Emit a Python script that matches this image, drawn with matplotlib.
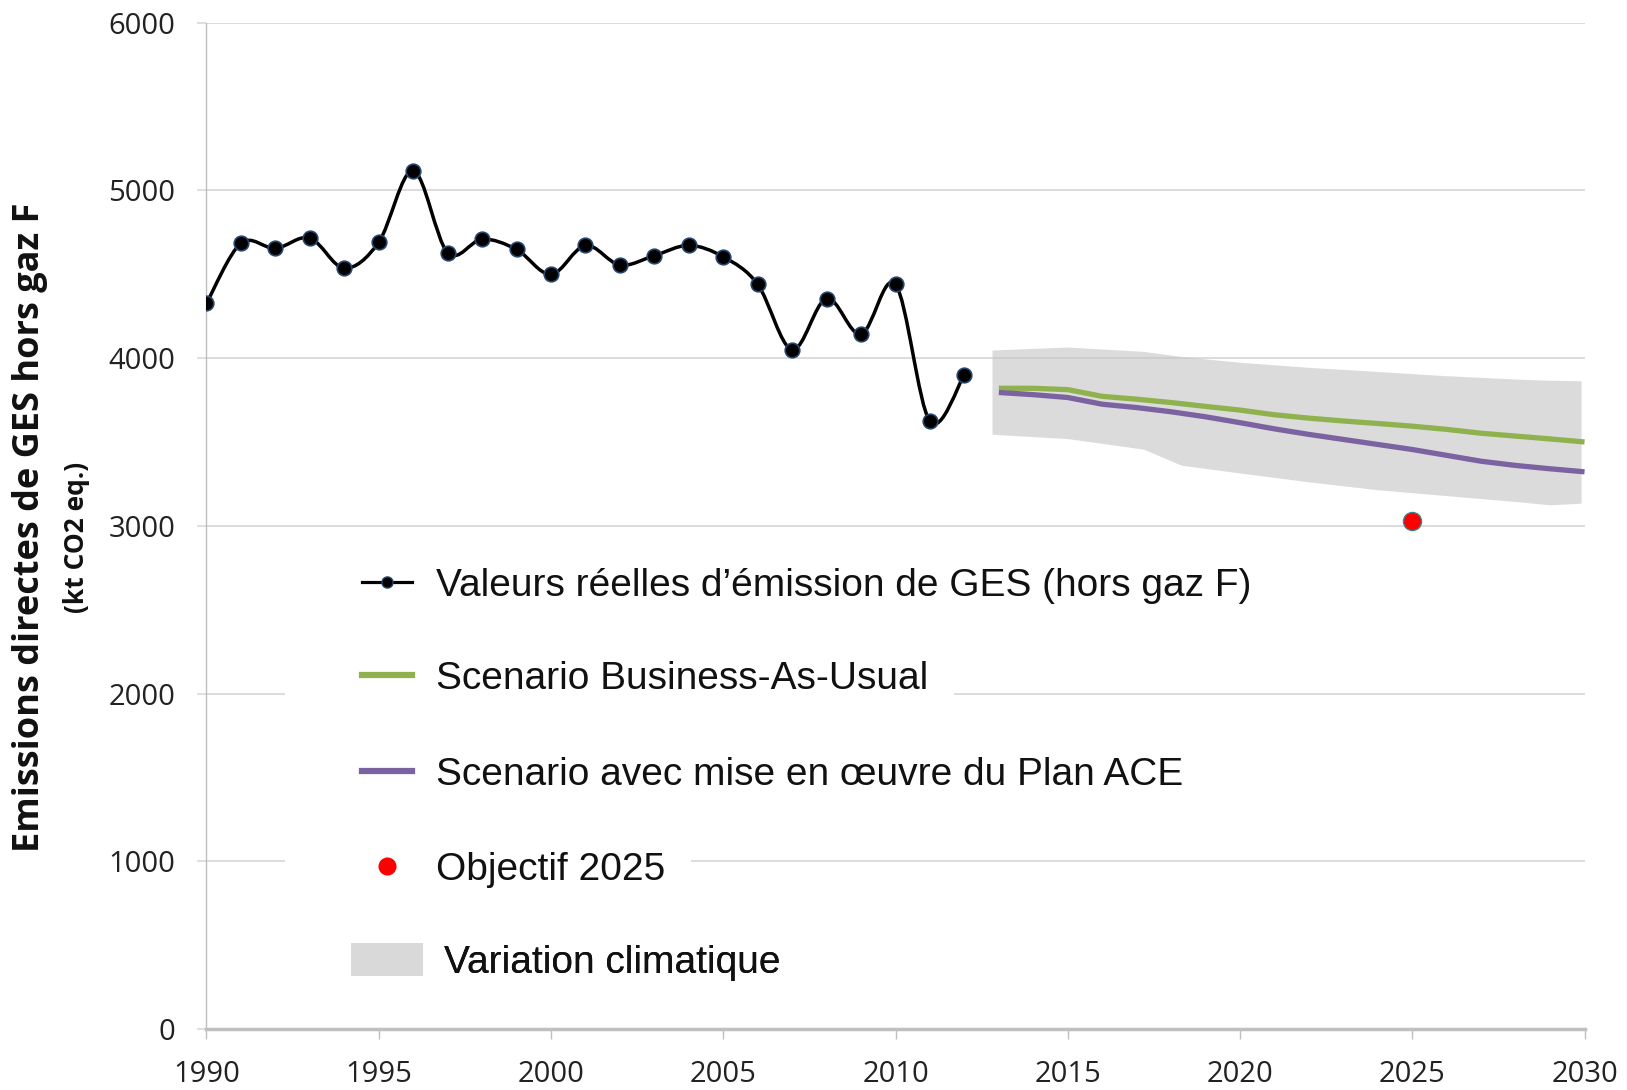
import matplotlib
matplotlib.use("Agg")
import matplotlib.pyplot as plt
import numpy as np
from matplotlib.path import Path
from matplotlib.patches import PathPatch, Patch, Rectangle
from matplotlib.lines import Line2D

# real GES emissions (hors gaz F), kt CO2 eq.
years_real = list(range(1990, 2013))
emissions_real = [4326, 4685, 4654, 4716, 4536, 4691, 5117, 4629, 4709, 4648,
                  4499, 4672, 4555, 4611, 4672, 4604, 4440, 4050, 4355, 4142,
                  4440, 3622, 3902]

# scenarios
years_scen = list(range(2013, 2031))
bau = [3820, 3820, 3812, 3772, 3755, 3735, 3712, 3690, 3662, 3642,
       3625, 3610, 3594, 3575, 3552, 3535, 3518, 3500]
plan_ace = [3795, 3782, 3765, 3725, 3705, 3680, 3650, 3615, 3578, 3545,
            3515, 3485, 3455, 3420, 3385, 3360, 3340, 3322]

# climatic variation band
band_years = [2012.8, 2015, 2017.2, 2018.3, 2020, 2022, 2024, 2026, 2028, 2029, 2029.9]
band_top = [4048, 4066, 4040, 4010, 3975, 3945, 3920, 3895, 3875, 3868, 3865]
band_bottom = [3546, 3520, 3457, 3361, 3315, 3262, 3215, 3180, 3145, 3125, 3135]

objectif_year = 2025
objectif_value = 3030

legend_labels = ["Valeurs réelles d\u2019émission de GES (hors gaz F)",
                 "Scenario Business-As-Usual",
                 "Scenario avec mise en \u0153uvre du Plan ACE",
                 "Objectif 2025",
                 "Variation climatique"]

c_green = '#8fb24e'
c_purple = '#7b62a0'
c_grid = '#d9d9d9'
c_axis = '#bfbfbf'
c_band = '#c4c4c4'


def smooth_path(xs, ys, t=1.0 / 6):
    # Excel-like smoothed line: cubic bezier between data points
    pts = np.column_stack([xs, ys]).astype(float)
    n = len(pts)
    verts = [pts[0]]
    codes = [Path.MOVETO]
    for i in range(n - 1):
        p0 = pts[max(i - 1, 0)]
        p1 = pts[i]
        p2 = pts[i + 1]
        p3 = pts[min(i + 2, n - 1)]
        c1 = p1 + (p2 - p0) * t
        c2 = p2 - (p3 - p1) * t
        verts += [c1, c2, p2]
        codes += [Path.CURVE4] * 3
    return Path(verts, codes)


W, H = 1627, 1090
fig = plt.figure(figsize=(W / 100, H / 100), dpi=100)
ax = fig.add_axes([0.1269, 0.056, 0.8470, 0.9232])

ax.set_xlim(1990, 2030)
ax.set_ylim(0, 6000)
ax.set_xticks(range(1990, 2031, 5))
ax.set_yticks(range(0, 6001, 1000))
ax.yaxis.grid(True, color=c_grid, lw=1.3, zorder=0)
ax.set_axisbelow(True)

for s in ['top', 'right']:
    ax.spines[s].set_visible(False)
ax.spines['left'].set_color(c_axis)
ax.spines['left'].set_linewidth(1.0)
ax.spines['bottom'].set_color(c_axis)
ax.spines['bottom'].set_linewidth(2.5)
ax.tick_params(axis='y', length=6.5, width=1.2, color=c_grid, pad=16,
               labelsize=21, labelcolor='#222222')
ax.tick_params(axis='x', length=7, width=1.0, color=c_axis, pad=15,
               labelsize=21, labelcolor='#222222')
for lab in ax.get_xticklabels() + ax.get_yticklabels():
    lab.set_fontfamily('Open Sans')

# band
ax.fill_between(band_years, band_bottom, band_top, color=c_band, alpha=0.6,
                lw=0, zorder=1)

# scenarios
ax.plot(years_scen, bau, color=c_green, lw=3.8, solid_capstyle='butt', zorder=3)
ax.plot(years_scen, plan_ace, color=c_purple, lw=3.8, solid_capstyle='butt', zorder=3)

# real values, smoothed
ax.add_patch(PathPatch(smooth_path(years_real, emissions_real), fill=False,
                       lw=2.5, edgecolor='black', zorder=4))
ax.plot(years_real, emissions_real, ls='none', marker='o', ms=10.5,
        mfc='black', mec='#24466f', mew=1.2, zorder=5)

# objectif
ax.plot([objectif_year], [objectif_value], ls='none', marker='o', ms=13,
        mfc='#ff0000', mec='#3d7f8a', mew=1.0, zorder=5)

# y label
fig.text(0.0185, 0.5165, "Emissions directes de GES hors gaz F", rotation=90,
         ha='center', va='center', fontsize=26, fontweight='bold',
         family='Open Sans', color='#111111')
fig.text(0.047, 0.507, "(kt CO2 eq.)", rotation=90, ha='center', va='center',
         fontsize=19, fontweight='bold', family='Open Sans', color='#111111')

# legend: one white box per row (hides gridlines only behind each row)
handles = [
    Line2D([], [], color='black', lw=2.3, marker='o', ms=8, mfc='black',
           mec='#24466f'),
    Line2D([], [], color=c_green, lw=4.5),
    Line2D([], [], color=c_purple, lw=4.5),
    Line2D([], [], ls='none', marker='o', ms=13, mfc='#ff0000', mec='none'),
    Patch(facecolor='#d9d9d9', edgecolor='none'),
]
row_y = [586, 679, 775, 870, 962]  # pixel rows of the legend entries
ax_bbox = ax.get_position()
legends = []
for i, (h, lab, py) in enumerate(zip(handles, legend_labels, row_y)):
    fy = 1 - py / H
    ay = (fy - ax_bbox.y0) / ax_bbox.height
    if i == 4:
        hl, hh, pad, x0 = 1.85, 0.95, 0.55, 345
    else:
        hl, hh, pad, x0 = 1.3, 0.7, 0.6, 356
    ax_x = (x0 / W - ax_bbox.x0) / ax_bbox.width
    leg = ax.legend([h], [lab], loc='center left', bbox_to_anchor=(ax_x, ay),
                    borderaxespad=0, borderpad=0.15, handlelength=hl,
                    handleheight=hh, handletextpad=pad, frameon=False,
                    prop={'family': 'Liberation Sans', 'size': 28})
    leg.set_zorder(6)
    for txt in leg.get_texts():
        txt.set_color('#111111')
    ax.add_artist(leg)
    legends.append(leg)

# white boxes behind rows, from a fixed left edge to end of text
fig.canvas.draw()
inv = ax.transAxes.inverted()
for leg in legends:
    bb = leg.get_window_extent()
    (x_a, y_a), (x_b, y_b) = inv.transform([[285, bb.y0 - 4], [bb.x1 + 20, bb.y1 + 4]])
    ax.add_patch(Rectangle((x_a, y_a), x_b - x_a, y_b - y_a, transform=ax.transAxes,
                           facecolor='white', edgecolor='none', zorder=2))

fig.savefig('out.png', dpi=100)
